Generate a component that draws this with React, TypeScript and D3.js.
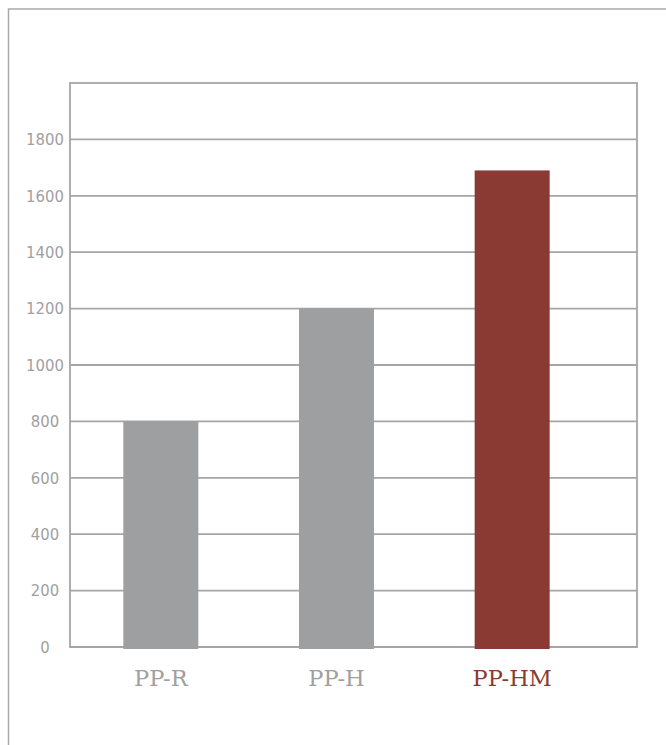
import React from "react";
import * as d3 from "d3";

const categories = ["PP-R", "PP-H", "PP-HM"];
const values = [800, 1200, 1690];
const highlight = [false, false, true];
const yTicks = [0, 200, 400, 600, 800, 1000, 1200, 1400, 1600, 1800];

const W = 666;
const H = 745;
const plot = { left: 70, right: 637, top: 83, bottom: 647 };
const GRID = "#a6a6a6";
const GRAY = "#9e9fa1";
const RED = "#8b3a33";

export default function App() {
  const y = d3.scaleLinear().domain([0, 2000]).range([plot.bottom, plot.top]);
  const x = d3.scaleBand<string>().domain(categories).range([73, 600]).paddingInner(0.573).paddingOuter(0.2865);
  const bw = x.bandwidth();
  return (
    <svg width={W} height={H} style={{ position: "absolute", left: 0, top: 0 }}>
      <rect x={8.5} y={9} width={700} height={800} fill="none" stroke="#aaaaaa" strokeWidth={1.5} />
      {yTicks.map((t) => (
        <g key={t}>
          <line x1={plot.left} x2={plot.right} y1={y(t)} y2={y(t)} stroke={GRID} strokeWidth={1.8} />
          <text x={45} y={y(t)} dy="0.35em" textAnchor="middle" fontFamily="'DejaVu Sans Condensed', 'DejaVu Sans'" fontStretch="condensed" fontSize={16.5} fill="#a0a0a0">
            {t}
          </text>
        </g>
      ))}
      <rect x={plot.left} y={plot.top} width={plot.right - plot.left} height={plot.bottom - plot.top} fill="none" stroke={GRID} strokeWidth={1.8} />
      {categories.map((c, i) => (
        <g key={c}>
          <rect x={x(c)} y={y(values[i])} width={bw} height={y(0) - y(values[i]) + 2} fill={highlight[i] ? RED : GRAY} />
          <text x={(x(c) as number) + bw / 2} y={686} textAnchor="middle" fontFamily="DejaVu Serif" fontSize={22.5} fill={highlight[i] ? RED : "#a0a0a0"}>
            {c}
          </text>
        </g>
      ))}
    </svg>
  );
}
